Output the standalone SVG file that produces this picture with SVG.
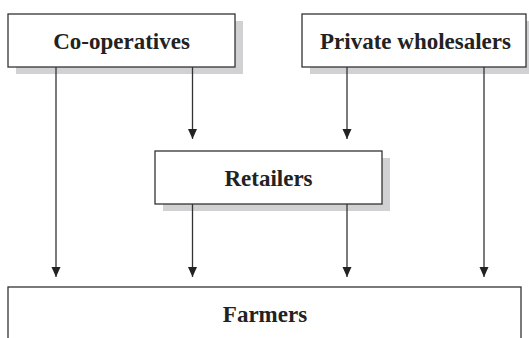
<svg xmlns="http://www.w3.org/2000/svg" width="529" height="338" viewBox="0 0 529 338">
<style>
.box{fill:#fff;stroke:#333;stroke-width:1.3}
.shadow{fill:#d1d1d3}
.lbl{font-family:"Liberation Serif",serif;font-weight:bold;font-size:23px;fill:#222;text-anchor:middle}
.conn{stroke:#333;stroke-width:1.3;fill:none}
</style>
<defs>
<marker id="arr" markerWidth="10" markerHeight="10" refX="10" refY="5" orient="auto" markerUnits="userSpaceOnUse">
<path d="M0,0.5 L10,5 L0,9.5 Z" fill="#222"/>
</marker>
</defs>
<g id="cooperatives">
<rect class="shadow" x="16" y="21" width="227" height="53"/>
<rect class="box" x="8" y="14" width="227" height="53"/>
<text class="lbl" x="121.5" y="49">Co-operatives</text>
</g>
<g id="wholesalers">
<rect class="shadow" x="310" y="21" width="227" height="53"/>
<rect class="box" x="302" y="14" width="224" height="53"/>
<text class="lbl" x="415.5" y="49">Private wholesalers</text>
</g>
<g id="retailers">
<rect class="shadow" x="163" y="158" width="227" height="53"/>
<rect class="box" x="155" y="151" width="227" height="53"/>
<text class="lbl" x="268.5" y="186">Retailers</text>
</g>
<g id="farmers">
<rect class="box" x="8" y="287" width="513" height="60"/>
<text class="lbl" x="265" y="322">Farmers</text>
</g>
<g id="connectors">
<line class="conn" x1="56" y1="67" x2="56" y2="277" marker-end="url(#arr)"/>
<line class="conn" x1="192.5" y1="67" x2="192.5" y2="139" marker-end="url(#arr)"/>
<line class="conn" x1="347" y1="67" x2="347" y2="139" marker-end="url(#arr)"/>
<line class="conn" x1="484" y1="67" x2="484" y2="277" marker-end="url(#arr)"/>
<line class="conn" x1="192.5" y1="204" x2="192.5" y2="277" marker-end="url(#arr)"/>
<line class="conn" x1="347" y1="204" x2="347" y2="277" marker-end="url(#arr)"/>
</g>
</svg>
